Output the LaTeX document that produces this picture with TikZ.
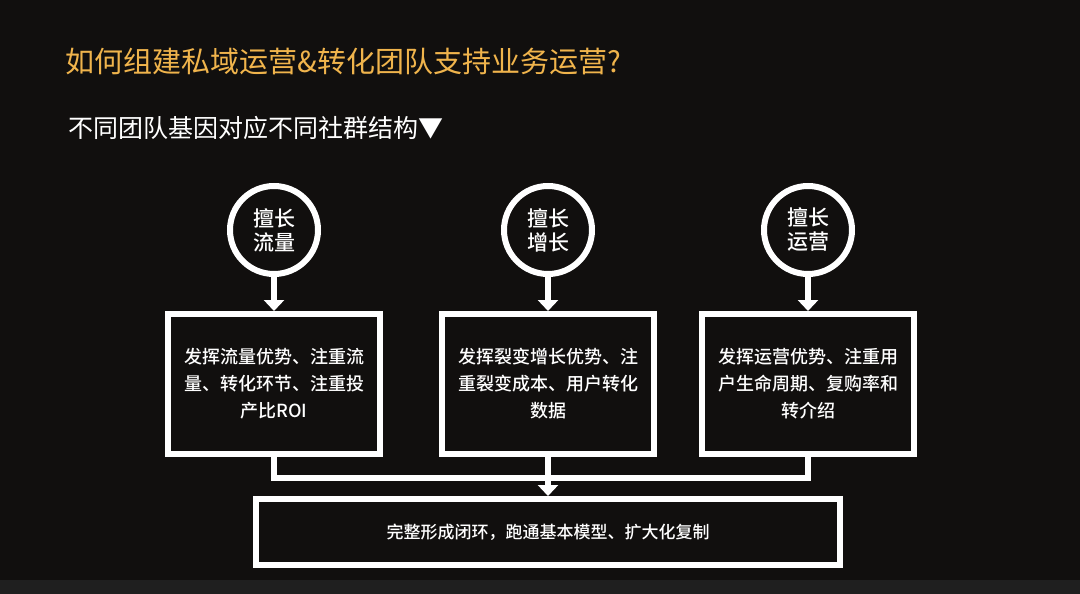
\documentclass[tikz,border=0pt]{standalone}
\usepackage{fontspec}
\setmainfont{Noto Sans CJK SC}
\newfontfamily\medfont{Noto Sans CJK SC Medium}
\usetikzlibrary{arrows.meta}
\definecolor{bg}{HTML}{110F0E}
\definecolor{gold}{HTML}{F0B44C}
\tikzset{
  circ/.style={circle,draw=white,line width=6pt,minimum size=88pt,inner sep=0pt,text=white,font=\medfont\fontsize{21}{24}\selectfont,align=center},
  boxx/.style={draw=white,line width=6pt,minimum width=212pt,minimum height=140pt,text=white,font=\medfont\fontsize{18}{27}\selectfont,align=center},
  conn/.style={draw=white,line width=6pt},
  arr/.style={conn,-{Triangle[width=20pt,length=11pt]}}
}
\begin{document}
\begin{tikzpicture}[x=1pt,y=-1pt]
\fill[bg] (0,0) rectangle (1080,594);
\fill[black!88] (0,580) rectangle (1080,594);
\node[anchor=west,text=gold,font=\fontsize{29}{32}\selectfont] (title) at (62,62) {如何组建私域运营\&转化团队支持业务运营?};
\node[anchor=west,text=white,font=\fontsize{25}{28}\selectfont] (sub) at (65,128) {不同团队基因对应不同社群结构▼};
\node[circ] (c1) at (274,230) {擅长\\流量};
\node[circ] (c2) at (548,230) {擅长\\增长};
\node[circ] (c3) at (808,230) {擅长\\运营};
\node[boxx] (b1) at (274,384) {发挥流量优势、注重流\\量、转化环节、注重投\\产比ROI};
\node[boxx] (b2) at (548,384) {发挥裂变增长优势、注\\重裂变成本、用户转化\\数据};
\node[boxx] (b3) at (808,384) {发挥运营优势、注重用\\户生命周期、复购率和\\转介绍};
\node[draw=white,line width=6pt,minimum width=584pt,minimum height=66pt,text=white,font=\medfont\fontsize{17}{20}\selectfont] (b4) at (548,532) {完整形成闭环，跑通基本模型、扩大化复制};
\draw[arr] (c1.south) -- (b1.north);
\draw[arr] (c2.south) -- (b2.north);
\draw[arr] (c3.south) -- (b3.north);
\coordinate (j) at (548,478);
\draw[conn] (b1.south) |- (j);
\draw[conn] (b3.south) |- (j);
\draw[arr] (b2.south) -- (b4.north);
\end{tikzpicture}
\end{document}
